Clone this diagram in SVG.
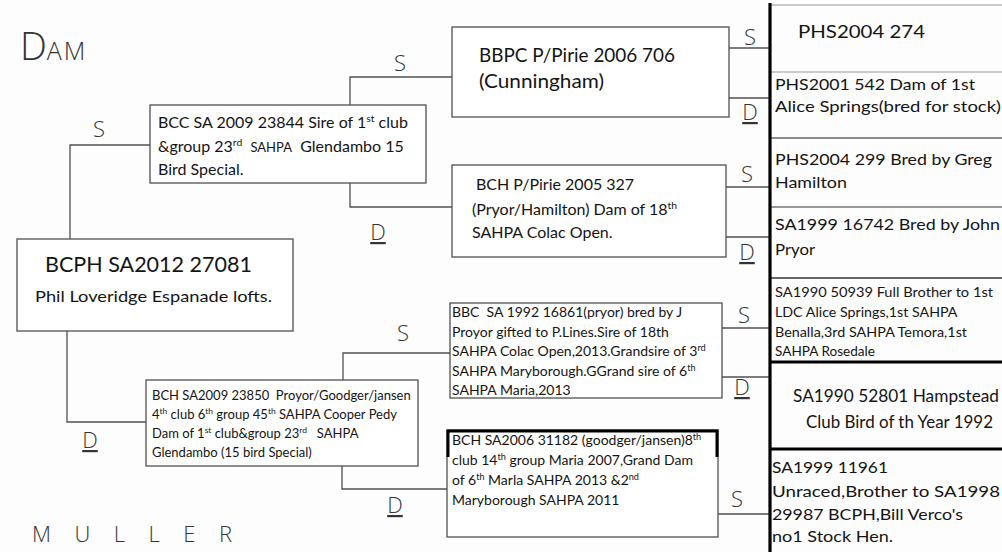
<svg xmlns="http://www.w3.org/2000/svg" width="1002" height="552" viewBox="0 0 1002 552">
<style>
.box{fill:#fff;stroke:#505050;stroke-width:1.3}
.ln{fill:none;stroke:#505050;stroke-width:1.3}
.t{font-family:Lato,"Liberation Sans",sans-serif;fill:#141414}
.hw{font-family:"Open Sans","DejaVu Sans",sans-serif;font-weight:300;fill:#333}
.sup{font-size:65%}
</style>
<rect x="0" y="0" width="1002" height="552" fill="#fdfdfd"/>

<g id="labels">
  <text class="hw" x="20" y="60" font-size="38">D<tspan font-size="25" letter-spacing="2">AM</tspan></text>
  <text class="hw" x="32" y="542" font-size="22" textLength="200" lengthAdjust="spacing">MULLER</text>
</g>

<g id="connectors">
  <path class="ln" d="M70,239 V145 H150"/>
  <path class="ln" d="M67,331 V422 H146"/>
  <path class="ln" d="M350,105 V77 H452"/>
  <path class="ln" d="M350,183 V207 H452"/>
  <path class="ln" d="M343,380 V353 H450"/>
  <path class="ln" d="M342,466 V489 H447"/>
  <path class="ln" d="M729,48 H770 M729,98 H770 M726,187 H770 M726,237 H770 M722,328 H770 M722,377 H770 M718,514 H770"/>
  <g class="hw" font-size="22" text-anchor="middle">
    <text x="99" y="137">S</text>
    <text x="400" y="71">S</text>
    <text x="378" y="240" text-decoration="underline">D</text>
    <text x="750" y="45">S</text>
    <text x="750" y="120" text-decoration="underline">D</text>
    <text x="747" y="182">S</text>
    <text x="747" y="260" text-decoration="underline">D</text>
    <text x="744" y="323">S</text>
    <text x="742" y="395" text-decoration="underline">D</text>
    <text x="403" y="341">S</text>
    <text x="90" y="448" text-decoration="underline">D</text>
    <text x="395" y="513" text-decoration="underline">D</text>
    <text x="737" y="507">S</text>
  </g>
</g>

<g id="node-main">
  <rect class="box" x="17" y="239" width="276" height="92"/>
  <text class="t" x="45" y="272" font-size="21" textLength="207" lengthAdjust="spacingAndGlyphs">BCPH SA2012 27081</text>
  <text class="t" x="35" y="302" font-size="16" textLength="237" lengthAdjust="spacingAndGlyphs">Phil Loveridge Espanade lofts.</text>
</g>

<g id="node-bcc">
  <rect class="box" x="150" y="105" width="276" height="78"/>
  <text class="t" font-size="16">
    <tspan x="158" y="128">BCC SA 2009 23844 Sire of 1<tspan class="sup" baseline-shift="super">st</tspan> club</tspan>
    <tspan x="158" y="152" xml:space="preserve">&amp;group 23<tspan class="sup" baseline-shift="super">rd</tspan>  <tspan font-size="13">SAHPA</tspan>  Glendambo 15</tspan>
    <tspan x="158" y="175">Bird Special.</tspan>
  </text>
</g>

<g id="node-bbpc">
  <rect class="box" x="452" y="27" width="277" height="90"/>
  <text class="t" x="479" y="62" font-size="19" textLength="196" lengthAdjust="spacingAndGlyphs">BBPC P/Pirie 2006 706</text>
  <text class="t" x="479" y="88" font-size="19" textLength="125" lengthAdjust="spacingAndGlyphs">(Cunningham)</text>
</g>

<g id="node-bch-pirie">
  <rect class="box" x="452" y="165" width="274" height="92"/>
  <text class="t" font-size="16">
    <tspan x="476" y="190">BCH P/Pirie 2005 327</tspan>
    <tspan x="472" y="215">(Pryor/Hamilton) Dam of 18<tspan class="sup" baseline-shift="super">th</tspan></tspan>
    <tspan x="472" y="238">SAHPA Colac Open.</tspan>
  </text>
</g>

<g id="node-bbc">
  <rect class="box" x="450" y="303" width="272" height="95"/>
  <text class="t" font-size="14">
    <tspan x="452" y="317" xml:space="preserve">BBC  SA 1992 16861(pryor) bred by J</tspan>
    <tspan x="452" y="337">Proyor gifted to P.Lines.Sire of 18th</tspan>
    <tspan x="452" y="356">SAHPA Colac Open,2013.Grandsire of 3<tspan class="sup" baseline-shift="super">rd</tspan></tspan>
    <tspan x="452" y="376">SAHPA Maryborough.GGrand sire of 6<tspan class="sup" baseline-shift="super">th</tspan></tspan>
    <tspan x="452" y="395">SAHPA Maria,2013</tspan>
  </text>
</g>

<g id="node-bch-2009">
  <rect class="box" x="146" y="380" width="272" height="86"/>
  <text class="t" font-size="13">
    <tspan x="152" y="400" xml:space="preserve">BCH SA2009 23850  Proyor/Goodger/jansen</tspan>
    <tspan x="152" y="419">4<tspan class="sup" baseline-shift="super">th</tspan> club 6<tspan class="sup" baseline-shift="super">th</tspan> group 45<tspan class="sup" baseline-shift="super">th</tspan> SAHPA Cooper Pedy</tspan>
    <tspan x="152" y="438" xml:space="preserve">Dam of 1<tspan class="sup" baseline-shift="super">st</tspan> club&amp;group 23<tspan class="sup" baseline-shift="super">rd</tspan>   SAHPA</tspan>
    <tspan x="152" y="457">Glendambo (15 bird Special)</tspan>
  </text>
</g>

<g id="node-bch-2006">
  <rect class="box" x="447" y="430" width="271" height="107"/>
  <path d="M448,457 V431 H717 V457" fill="none" stroke="#000" stroke-width="3"/>
  <text class="t" font-size="14">
    <tspan x="452" y="445">BCH SA2006 31182 (goodger/jansen)8<tspan class="sup" baseline-shift="super">th</tspan></tspan>
    <tspan x="452" y="465">club 14<tspan class="sup" baseline-shift="super">th</tspan> group Maria 2007,Grand Dam</tspan>
    <tspan x="452" y="485">of 6<tspan class="sup" baseline-shift="super">th</tspan> Marla SAHPA 2013 &amp;2<tspan class="sup" baseline-shift="super">nd</tspan></tspan>
    <tspan x="452" y="505">Maryborough SAHPA 2011</tspan>
  </text>
</g>

<g id="node-column">
  <path d="M771,5 H1002" stroke="#999" stroke-width="1.2"/>
  <path d="M771,72 H1002" stroke="#999" stroke-width="1.2"/>
  <path d="M771,138 H1002" stroke="#666" stroke-width="1.3"/>
  <path d="M771,207 H1002" stroke="#777" stroke-width="1.3"/>
  <path d="M771,278 H1002" stroke="#333" stroke-width="1.6"/>
  <path d="M771,362 H1002" stroke="#000" stroke-width="3"/>
  <path d="M771,449 H1002" stroke="#000" stroke-width="3"/>
  <path d="M770,3 V552" stroke="#000" stroke-width="3.2"/>
</g>

<g id="node-phs2004-274"><text class="t" x="798" y="38" font-size="18" textLength="127" lengthAdjust="spacingAndGlyphs">PHS2004 274</text></g>
<g id="node-phs2001-542">
  <text class="t" x="775" y="90" font-size="16" textLength="200" lengthAdjust="spacingAndGlyphs">PHS2001 542 Dam of 1st</text>
  <text class="t" x="775" y="112" font-size="16" textLength="226" lengthAdjust="spacingAndGlyphs">Alice Springs(bred for stock)</text>
</g>
<g id="node-phs2004-299">
  <text class="t" x="775" y="165" font-size="16" textLength="217" lengthAdjust="spacingAndGlyphs">PHS2004 299 Bred by Greg</text>
  <text class="t" x="775" y="188" font-size="16" textLength="72" lengthAdjust="spacingAndGlyphs">Hamilton</text>
</g>
<g id="node-sa1999-16742">
  <text class="t" x="775" y="230" font-size="16" textLength="225" lengthAdjust="spacingAndGlyphs">SA1999 16742 Bred by John</text>
  <text class="t" x="775" y="255" font-size="16" textLength="40" lengthAdjust="spacingAndGlyphs">Pryor</text>
</g>
<g id="node-sa1990-50939">
  <text class="t" font-size="14">
    <tspan x="775" y="297" textLength="218" lengthAdjust="spacingAndGlyphs">SA1990 50939 Full Brother to 1st</tspan>
    <tspan x="775" y="317" textLength="182" lengthAdjust="spacingAndGlyphs">LDC Alice Springs,1st SAHPA</tspan>
    <tspan x="775" y="337" textLength="192" lengthAdjust="spacingAndGlyphs">Benalla,3rd SAHPA Temora,1st</tspan>
    <tspan x="775" y="356" textLength="100" lengthAdjust="spacingAndGlyphs">SAHPA Rosedale</tspan>
  </text>
</g>
<g id="node-sa1990-52801">
  <text class="t" x="793" y="402" font-size="17" textLength="206" lengthAdjust="spacingAndGlyphs">SA1990 52801 Hampstead</text>
  <text class="t" x="806" y="428" font-size="17" textLength="187" lengthAdjust="spacingAndGlyphs">Club Bird of th Year 1992</text>
</g>
<g id="node-sa1999-11961">
  <text class="t" x="772" y="473" font-size="16" textLength="116" lengthAdjust="spacingAndGlyphs">SA1999 11961</text>
  <text class="t" x="772" y="497" font-size="16" textLength="228" lengthAdjust="spacingAndGlyphs">Unraced,Brother to SA1998</text>
  <text class="t" x="772" y="520" font-size="16" textLength="191" lengthAdjust="spacingAndGlyphs">29987 BCPH,Bill Verco's</text>
  <text class="t" x="772" y="542" font-size="16" textLength="121" lengthAdjust="spacingAndGlyphs">no1 Stock Hen.</text>
</g>
</svg>
